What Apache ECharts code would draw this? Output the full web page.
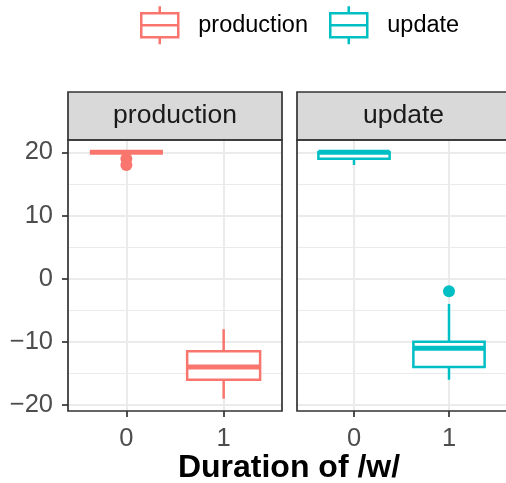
<!DOCTYPE html>
<html><head><meta charset="utf-8">
<script src="https://cdn.jsdelivr.net/npm/echarts@6/dist/echarts.min.js"></script>
<style>html,body{margin:0;padding:0;background:#fff}#c{width:506px;height:483px}</style>
</head><body><div id="c"></div>
<script>
// ---- data ----
const panels = ['production', 'update'];
const colors = ['#F8766D', '#00BFC4'];
const durations = [0, 1];
const xTickLabels = ['0', '1'];
const yTickValues = [-20, -10, 0, 10, 20];
const yTickLabels = ['\u221220', '\u221210', '0', '10', '20'];
// [lower whisker, q1, median, q3, upper whisker] per duration
const productionBox = [[20, 20, 20, 20, 20], [-19, -16, -14, -11.5, -8]];
const updateBox = [[18, 19, 20, 20, 20], [-16, -14, -11, -10, -4]];
const productionOutliers = [[0, 19], [0, 18]];
const updateOutliers = [[1, -2]];
const yRange = [-20.95, 21.95];
const xRange = [-0.6, 1.6];

// ---- layout ----
const FONT = 'Liberation Sans, Arial, Helvetica, sans-serif';
const panelLeft = [68, 297];
const panelWidth = [214, 213];
const panelTop = 140, panelHeight = 271;
const stripTop = 92, stripHeight = 48;
const boxes = [productionBox, updateBox];
const outliers = [productionOutliers, updateOutliers];

function renderBox(color) {
  return function (params, api) {
    const x = api.value(0), lo = api.value(1), q1 = api.value(2), med = api.value(3), q3 = api.value(4), hi = api.value(5);
    const hw = 0.375;
    const tl = api.coord([x - hw, q3]), br = api.coord([x + hw, q1]);
    const mL = api.coord([x - hw, med]), mR = api.coord([x + hw, med]);
    const top = api.coord([x, hi]), qt = api.coord([x, q3]), qb = api.coord([x, q1]), bot = api.coord([x, lo]);
    const ls = { stroke: color, lineWidth: 2.5 };
    return {
      type: 'group', children: [
        { type: 'line', shape: { x1: top[0], y1: top[1], x2: qt[0], y2: qt[1] }, style: ls },
        { type: 'line', shape: { x1: qb[0], y1: qb[1], x2: bot[0], y2: bot[1] }, style: ls },
        { type: 'rect', shape: { x: tl[0], y: tl[1], width: br[0] - tl[0], height: br[1] - tl[1] }, style: { fill: '#fff', stroke: color, lineWidth: 2.5 } },
        { type: 'line', shape: { x1: mL[0], y1: mL[1], x2: mR[0], y2: mR[1] }, style: { stroke: color, lineWidth: 5 } }
      ]
    };
  };
}

const grids = [], xAxes = [], yAxes = [], series = [], graphics = [];
panels.forEach((p, i) => {
  grids.push({ left: panelLeft[i], top: panelTop, width: panelWidth[i], height: panelHeight, containLabel: false });
  xAxes.push({
    type: 'value', gridIndex: i, min: xRange[0], max: xRange[1], splitNumber: 2, position: 'bottom',
    axisLine: { show: false, onZero: false },
    axisTick: { show: true, customValues: durations, length: 6, lineStyle: { color: '#333', width: 1.7 } },
    axisLabel: { show: true, customValues: durations, formatter: v => xTickLabels[durations.indexOf(v)] ?? '', fontSize: 25.5, color: '#4D4D4D', fontFamily: FONT, margin: 15 },
    splitLine: { show: true, lineStyle: { color: '#EBEBEB', width: 2 } }
  });
  yAxes.push({
    type: 'value', gridIndex: i, min: yRange[0], max: yRange[1], position: 'left',
    axisLine: { show: false, onZero: false },
    axisTick: { show: i === 0, customValues: yTickValues, length: 6, lineStyle: { color: '#333', width: 1.7 } },
    axisLabel: { show: i === 0, customValues: yTickValues, formatter: v => yTickLabels[yTickValues.indexOf(v)] ?? '', fontSize: 25.5, color: '#4D4D4D', fontFamily: FONT, margin: 15 },
    splitLine: { show: true, lineStyle: { color: '#EBEBEB', width: 2 } },
    minorTick: { show: false, splitNumber: 2 },
    minorSplitLine: { show: true, lineStyle: { color: '#EBEBEB', width: 1 } }
  });
  series.push({
    type: 'custom', name: p, xAxisIndex: i, yAxisIndex: i, z: 3,
    renderItem: renderBox(colors[i]),
    encode: { x: 0, y: [1, 2, 3, 4, 5] },
    itemStyle: { color: colors[i] },
    data: durations.map((d, k) => [d].concat(boxes[i][k]))
  });
  series.push({
    type: 'scatter', name: p, xAxisIndex: i, yAxisIndex: i, z: 4,
    symbolSize: 12, itemStyle: { color: colors[i], opacity: 1 },
    data: outliers[i]
  });
  graphics.push({
    type: 'rect', z: 100, shape: { x: panelLeft[i], y: stripTop, width: panelWidth[i], height: stripHeight },
    style: { fill: '#D9D9D9', stroke: '#333', lineWidth: 1.7 }
  });
  graphics.push({
    type: 'rect', z: 100, shape: { x: panelLeft[i], y: panelTop, width: panelWidth[i], height: panelHeight },
    style: { fill: 'none', stroke: '#333', lineWidth: 1.7 }
  });
  graphics.push({
    type: 'text', z: 101, x: panelLeft[i] + panelWidth[i] / 2, y: stripTop + stripHeight / 2,
    style: { text: p, fontSize: 26.5, fontFamily: FONT, fill: '#1A1A1A', align: 'center', verticalAlign: 'middle' }
  });
});
graphics.push({
  type: 'text', z: 101, x: 289, y: 468,
  style: { text: 'Duration of /w/', fontSize: 32, fontWeight: 'bold', fontFamily: FONT, fill: '#000', align: 'center', verticalAlign: 'middle' }
});

const legendIcon = 'path://M0,7H37V31H0Z M0,19H37 M18.5,0V7 M18.5,31V38';
const option = {
  animation: false,
  backgroundColor: '#fff',
  grid: grids, xAxis: xAxes, yAxis: yAxes, series: series,
  legend: {
    left: 140, top: 5, padding: 0, itemWidth: 37, itemHeight: 38, itemGap: 21, selectedMode: false,
    textStyle: { fontSize: 23.5, color: '#000', fontFamily: FONT, padding: [0, 0, 0, 15] },
    data: panels.map((p, i) => ({ name: p, icon: legendIcon, itemStyle: { color: 'rgba(0,0,0,0)', borderColor: colors[i], borderWidth: 2.5 } }))
  },
  graphic: graphics
};
const chart = echarts.init(document.getElementById('c'), null, { renderer: 'canvas' });
chart.setOption(option);
</script></body></html>
